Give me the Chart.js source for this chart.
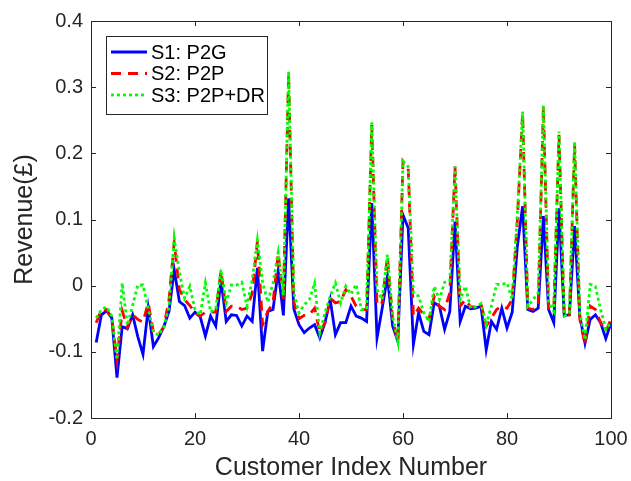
<!DOCTYPE html>
<html>
<head>
<meta charset="utf-8">
<script src="https://cdn.jsdelivr.net/npm/chart.js@4.4.1/dist/chart.umd.min.js"></script>
<style>
    html, body { margin: 0; padding: 0; background: #fff; }
    #wrap { width: 631px; height: 481px; }
</style>
</head>
<body>
<div id="wrap"><canvas id="revenueChart" width="631" height="481"></canvas></div>
<script>
const customerIdx = [
    1, 2, 3, 4, 5, 6, 7, 8, 9, 10, 11, 12, 13, 14, 15, 16, 17, 18, 19, 20,
    21, 22, 23, 24, 25, 26, 27, 28, 29, 30, 31, 32, 33, 34, 35, 36, 37, 38, 39, 40,
    41, 42, 43, 44, 45, 46, 47, 48, 49, 50, 51, 52, 53, 54, 55, 56, 57, 58, 59, 60,
    61, 62, 63, 64, 65, 66, 67, 68, 69, 70, 71, 72, 73, 74, 75, 76, 77, 78, 79, 80,
    81, 82, 83, 84, 85, 86, 87, 88, 89, 90, 91, 92, 93, 94, 95, 96, 97, 98, 99, 100
];

// S1: P2G
const p2g = [
    -0.086, -0.044, -0.038, -0.049, -0.139, -0.062, -0.065, -0.044, -0.077, -0.104,
    -0.034, -0.092, -0.079, -0.062, -0.039, 0.024, -0.024, -0.030, -0.049, -0.040,
    -0.047, -0.076, -0.046, -0.061, 0.009, -0.054, -0.044, -0.045, -0.061, -0.046,
    -0.054, 0.027, -0.099, -0.039, -0.036, 0.022, -0.045, 0.132, -0.035, -0.059,
    -0.071, -0.064, -0.059, -0.079, -0.056, -0.021, -0.074, -0.056, -0.056, -0.031,
    -0.046, -0.049, -0.054, 0.125, -0.079, -0.034, 0.014, -0.061, -0.084, 0.107,
    0.087, -0.089, -0.041, -0.069, -0.074, -0.026, -0.031, -0.066, -0.039, 0.097,
    -0.054, -0.031, -0.035, -0.034, -0.031, -0.097, -0.054, -0.066, -0.034, -0.064,
    -0.040, 0.060, 0.120, -0.036, -0.039, -0.034, 0.105, -0.036, -0.056, 0.117,
    -0.045, -0.044, 0.090, -0.046, -0.087, -0.051, -0.044, -0.056, -0.080, -0.056
];

// S2: P2P
const p2p = [
    -0.056, -0.036, -0.036, -0.049, -0.112, -0.038, -0.063, -0.044, -0.051, -0.055,
    -0.026, -0.070, -0.074, -0.062, -0.021, 0.065, -0.006, -0.021, -0.030, -0.041,
    -0.046, -0.040, -0.040, -0.040, 0.022, -0.039, -0.031, -0.031, -0.036, -0.034,
    -0.011, 0.067, -0.059, -0.039, -0.026, 0.049, -0.020, 0.320, -0.025, -0.050,
    -0.045, -0.044, -0.034, -0.071, -0.056, -0.019, -0.026, -0.024, -0.006, -0.016,
    -0.031, -0.036, -0.036, 0.243, -0.030, -0.026, 0.044, -0.051, -0.084, 0.188,
    0.178, -0.046, -0.034, -0.044, -0.051, -0.016, -0.031, -0.036, -0.011, 0.180,
    -0.031, -0.021, -0.032, -0.032, -0.027, -0.061, -0.049, -0.036, -0.031, -0.034,
    -0.021, 0.100, 0.261, -0.034, -0.036, -0.031, 0.271, -0.034, -0.036, 0.228,
    -0.046, -0.044, 0.213, -0.051, -0.089, -0.031, -0.036, -0.056, -0.069, -0.051
];

// S3: P2P+DR
const p2pDr = [
    -0.049, -0.036, -0.032, -0.046, -0.112, 0.004, -0.060, -0.030, 0.001, 0.001,
    -0.035, -0.070, -0.075, -0.062, -0.032, 0.072, 0.020, -0.019, -0.001, -0.036,
    -0.044, 0.004, -0.040, -0.035, 0.024, -0.026, 0.001, 0.001, 0.005, -0.031,
    0.009, 0.069, 0.005, -0.025, 0.004, 0.050, -0.015, 0.324, -0.011, -0.041,
    -0.029, -0.021, 0.004, -0.071, -0.041, -0.016, 0.004, -0.026, -0.001, -0.013,
    0.002, -0.036, -0.036, 0.247, -0.006, -0.021, 0.047, -0.046, -0.084, 0.188,
    0.180, -0.011, -0.016, -0.041, -0.054, -0.001, -0.021, 0.005, 0.007, 0.180,
    -0.021, -0.001, -0.034, -0.032, -0.027, -0.059, -0.031, 0.002, 0.002, 0.004,
    -0.021, 0.110, 0.263, -0.031, -0.021, -0.011, 0.273, -0.026, -0.039, 0.233,
    -0.046, -0.041, 0.218, -0.041, -0.082, 0.002, -0.001, -0.036, -0.066, -0.056
];

const seriesNames = ['S1: P2G', 'S2: P2P', 'S3: P2P+DR'];
const xTicks = [0, 20, 40, 60, 80, 100];
const yTicks = [-0.2, -0.1, 0, 0.1, 0.2, 0.3, 0.4];
const yTickLabels = ['-0.2', '-0.1', '0', '0.1', '0.2', '0.3', '0.4'];

const FONT = '"Liberation Sans", Arial, Helvetica, sans-serif';
const AXIS_COLOR = '#262626';
const lineStyles = [
    { color: '#0000ff', dash: [] },
    { color: '#ff0000', dash: [10, 7] },
    { color: '#00ff00', dash: [3, 3] }
];

function toPoints(values) {
    return customerIdx.map((c, k) => ({ x: c, y: values[k] }));
}

// box around plot area with inward ticks, like matlab axes
const axesBoxPlugin = {
    id: 'axesBox',
    afterDatasetsDraw(chart) {
        const { ctx, chartArea: a, scales } = chart;
        ctx.save();
        ctx.strokeStyle = AXIS_COLOR;
        ctx.lineWidth = 1;
        ctx.strokeRect(a.left + 0.5, a.top + 0.5, a.right - a.left, a.bottom - a.top);
        ctx.beginPath();
        xTicks.forEach(v => {
            const px = Math.round(scales.x.getPixelForValue(v)) + 0.5;
            ctx.moveTo(px, a.bottom);
            ctx.lineTo(px, a.bottom - 5);
            ctx.moveTo(px, a.top);
            ctx.lineTo(px, a.top + 5);
        });
        yTicks.forEach(v => {
            const py = Math.round(scales.y.getPixelForValue(v)) + 0.5;
            ctx.moveTo(a.left, py);
            ctx.lineTo(a.left + 5, py);
            ctx.moveTo(a.right, py);
            ctx.lineTo(a.right - 5, py);
        });
        ctx.stroke();
        ctx.restore();
    }
};

// legend box in the upper left corner
const boxLegendPlugin = {
    id: 'boxLegend',
    afterDraw(chart) {
        const ctx = chart.ctx;
        const left = 106, top = 36, w = 161, h = 78;
        ctx.save();
        ctx.fillStyle = '#ffffff';
        ctx.fillRect(left, top, w, h);
        ctx.strokeStyle = AXIS_COLOR;
        ctx.lineWidth = 1;
        ctx.strokeRect(left + 0.5, top + 0.5, w, h);
        seriesNames.forEach((name, k) => {
            const y = top + 16 + k * 21.5;
            ctx.beginPath();
            ctx.strokeStyle = lineStyles[k].color;
            ctx.lineWidth = 2.8;
            ctx.setLineDash(lineStyles[k].dash);
            ctx.moveTo(111, y);
            ctx.lineTo(147, y);
            ctx.stroke();
            ctx.setLineDash([]);
            ctx.fillStyle = '#000000';
            ctx.font = '20px ' + FONT;
            ctx.textBaseline = 'middle';
            ctx.textAlign = 'left';
            ctx.fillText(name, 151, y + 1);
        });
        ctx.restore();
    }
};

document.addEventListener('DOMContentLoaded', function() {
    const ctx = document.getElementById('revenueChart').getContext('2d');
    const allSeries = [p2g, p2p, p2pDr];

    new Chart(ctx, {
        type: 'line',
        data: {
            datasets: allSeries.map((vals, k) => ({
                label: seriesNames[k],
                data: toPoints(vals),
                borderColor: lineStyles[k].color,
                borderDash: lineStyles[k].dash,
                borderWidth: 2.8,
                pointRadius: 0,
                tension: 0,
                fill: false,
                order: 3 - k
            }))
        },
        options: {
            responsive: false,
            animation: false,
            devicePixelRatio: 1,
            layout: { padding: { top: 21, right: 20, bottom: 0, left: 0 } },
            plugins: {
                legend: { display: false },
                tooltip: { enabled: false }
            },
            scales: {
                x: {
                    type: 'linear',
                    min: 0,
                    max: 100,
                    afterBuildTicks: scale => { scale.ticks = xTicks.map(v => ({ value: v })); },
                    afterFit: scale => {
                        scale.height = 63;
                        scale.paddingLeft = 0;
                        scale.paddingRight = 0;
                    },
                    grid: { display: false, drawTicks: false },
                    border: { display: false },
                    ticks: {
                        color: AXIS_COLOR,
                        font: { family: FONT, size: 20 },
                        padding: 9,
                        maxRotation: 0,
                        autoSkip: false
                    },
                    title: {
                        display: true,
                        text: 'Customer Index Number',
                        color: AXIS_COLOR,
                        font: { family: FONT, size: 25 },
                        padding: { top: 0, bottom: -2 }
                    }
                },
                y: {
                    min: -0.2,
                    max: 0.4,
                    afterBuildTicks: scale => { scale.ticks = yTicks.map(v => ({ value: v })); },
                    afterFit: scale => {
                        scale.width = 91;
                        scale.paddingTop = 0;
                        scale.paddingBottom = 0;
                    },
                    grid: { display: false, drawTicks: false },
                    border: { display: false },
                    ticks: {
                        color: AXIS_COLOR,
                        font: { family: FONT, size: 20 },
                        padding: 8,
                        callback: v => yTickLabels[yTicks.findIndex(t => Math.abs(t - v) < 1e-9)]
                    },
                    title: {
                        display: true,
                        text: 'Revenue(£)',
                        color: AXIS_COLOR,
                        font: { family: FONT, size: 25 },
                        padding: { top: 10, bottom: 0 }
                    }
                }
            }
        },
        plugins: [axesBoxPlugin, boxLegendPlugin]
    });
});
</script>
</body>
</html>
